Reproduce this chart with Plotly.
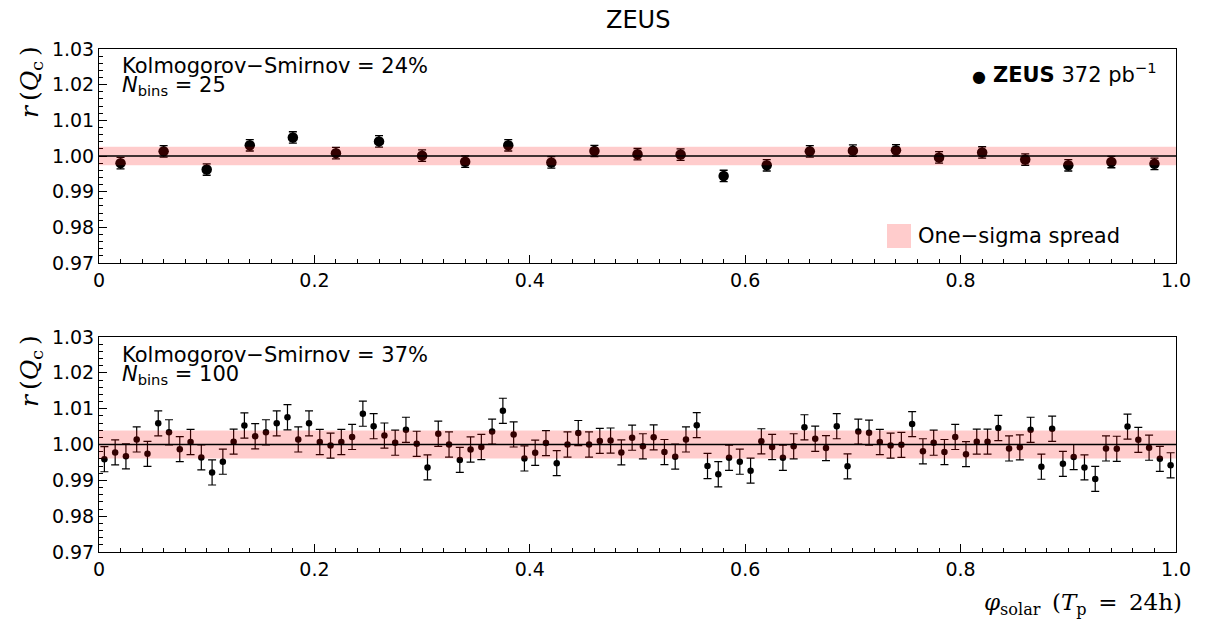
import plotly.graph_objects as go

# ---------------- data ----------------
N_TOP = 25
N_BOT = 100
x_top = [round((i + 0.5) / N_TOP, 4) for i in range(N_TOP)]   # bin centres
x_bot = [round((i + 0.5) / N_BOT, 4) for i in range(N_BOT)]

r_top = [0.9980, 1.0013, 0.9962, 1.0030, 1.0052, 1.0008, 1.0041, 1.0001, 0.9984,
         1.0030, 0.9982, 1.0014, 1.0005, 1.0004, 0.9944, 0.9974, 1.0013, 1.0015,
         1.0016, 0.9996, 1.0010, 0.9990, 0.9974, 0.9983, 0.9978]
err_top = 0.0016

r_bot = [
    0.9959, 0.9978, 0.9967, 1.0014, 0.9974, 1.0059, 1.0034, 0.9987, 1.0007, 0.9964,
    0.9922, 0.9952, 1.0008, 1.0053, 1.0023, 1.0034, 1.0059, 1.0076, 1.0014, 1.0059,
    1.0007, 0.9997, 1.0007, 1.0021, 1.0086, 1.0051, 1.0025, 1.0005, 1.0041, 1.0002,
    0.9936, 1.0030, 1.0000, 0.9957, 0.9986, 0.9993, 1.0036, 1.0094, 1.0028, 0.9961,
    0.9977, 1.0004, 0.9948, 1.0000, 1.0032, 1.0000, 1.0010, 1.0011, 0.9978, 1.0019,
    0.9995, 1.0020, 0.9979, 0.9966, 1.0014, 1.0054, 0.9940, 0.9917, 0.9963, 0.9952,
    0.9927, 1.0009, 0.9993, 0.9963, 0.9995, 1.0048, 1.0016, 0.9990, 1.0051, 0.9939,
    1.0036, 1.0033, 1.0007, 0.9997, 0.9999, 1.0057, 0.9981, 1.0005, 0.9979, 1.0021,
    0.9973, 1.0008, 1.0008, 1.0046, 0.9989, 0.9992, 1.0041, 0.9938, 1.0044, 0.9946,
    0.9965, 0.9936, 0.9904, 0.9989, 0.9988, 1.0050, 1.0013, 0.9991, 0.9960, 0.9942]
err_bot = 0.0035

center = 1.0
spread_top = 0.0026
spread_bot = 0.0039

ks_top = "24%"
ks_bot = "37%"

x_ticks = [0, 0.2, 0.4, 0.6, 0.8, 1.0]
x_ticktext = ["0", "0.2", "0.4", "0.6", "0.8", "1.0"]
y_ticks = [0.97, 0.98, 0.99, 1.00, 1.01, 1.02, 1.03]
y_ticktext = ["0.97", "0.98", "0.99", "1.00", "1.01", "1.02", "1.03"]

# ---------------- figure ----------------
SANS = "DejaVu Sans, Liberation Sans, Arial, sans-serif"
SERIF = "DejaVu Serif, Liberation Serif, serif"
W, H = 1205, 630
ML, MR, MT, MB = 99, 29, 49, 78
PW = W - ML - MR
PH = H - MT - MB


def xp(px):
    return (px - ML) / PW


def yp(py):
    return (H - MB - py) / PH


fig = go.Figure()

fig.add_trace(go.Scatter(
    x=x_top, y=r_top, mode="markers", xaxis="x", yaxis="y",
    marker=dict(color="black", size=10.5),
    error_y=dict(type="constant", value=err_top, color="black", thickness=1.3, width=4),
    showlegend=False, hoverinfo="skip"))

fig.add_trace(go.Scatter(
    x=x_bot, y=r_bot, mode="markers", xaxis="x2", yaxis="y2",
    marker=dict(color="black", size=6.5),
    error_y=dict(type="constant", value=err_bot, color="black", thickness=1.2, width=4),
    showlegend=False, hoverinfo="skip"))

BAND = "rgba(255,0,0,0.2)"
shapes = []
for xr, yr, s in (("x", "y", spread_top), ("x2", "y2", spread_bot)):
    shapes.append(dict(type="rect", xref=xr, yref=yr, x0=0, x1=1,
                       y0=center - s, y1=center + s, fillcolor=BAND,
                       line=dict(width=0), layer="above"))
    shapes.append(dict(type="line", xref=xr, yref=yr, x0=0, x1=1,
                       y0=center, y1=center, line=dict(color="black", width=1.3),
                       layer="above"))
# legend box for one-sigma spread
shapes.append(dict(type="rect", xref="paper", yref="paper",
                   x0=xp(887), x1=xp(911), y0=yp(248), y1=yp(224),
                   fillcolor=BAND, line=dict(width=0), layer="above"))

axis_common = dict(
    showline=True, linecolor="black", linewidth=1, mirror=True,
    ticks="inside", ticklen=8, tickwidth=1, tickcolor="black",
    showgrid=False, zeroline=False,
    tickfont=dict(family=SANS, size=19, color="black"),
)
xax = dict(axis_common, range=[0, 1], tickvals=x_ticks, ticktext=x_ticktext,
           minor=dict(tick0=0, dtick=0.02, ticks="inside", ticklen=4,
                      tickcolor="black", showgrid=False))
yax = dict(axis_common, range=[0.97, 1.03], tickvals=y_ticks, ticktext=y_ticktext,
           minor=dict(tick0=0.97, dtick=0.002, ticks="inside", ticklen=4,
                      tickcolor="black", showgrid=False))

top_lo = yp(263)
bot_hi = yp(337)

annotations = [
    dict(text="ZEUS", x=0.5, y=yp(20), xref="paper", yref="paper",
         showarrow=False, font=dict(family=SANS, size=24, color="black"),
         xanchor="center", yanchor="middle"),
]
for off, ks, n in ((0, ks_top, N_TOP), (289, ks_bot, N_BOT)):
    annotations.append(dict(
        text="Kolmogorov\u2212Smirnov = " + ks, x=xp(120), y=yp(66 + off),
        xref="paper", yref="paper", showarrow=False, xanchor="left", yanchor="middle",
        font=dict(family=SANS, size=21, color="black")))
    annotations.append(dict(
        text="<i>N</i><sub>bins</sub> = " + str(n), x=xp(120), y=yp(86 + off),
        xref="paper", yref="paper", showarrow=False, xanchor="left", yanchor="middle",
        font=dict(family=SANS, size=21, color="black")))
    annotations.append(dict(
        text="<i>r</i>\u2009(<i>Q</i><sub>c</sub>\u2009)", x=xp(31), y=yp(82 + off),
        xref="paper", yref="paper", showarrow=False, textangle=-90,
        xanchor="center", yanchor="middle",
        font=dict(family=SERIF, size=25, color="black")))

annotations.append(dict(
    text="\u25CF", x=xp(979), y=yp(76),
    xref="paper", yref="paper", showarrow=False, xanchor="center", yanchor="middle",
    font=dict(family=SANS, size=16, color="black")))
annotations.append(dict(
    text="<b>ZEUS</b> 372 pb<sup>\u22121</sup>", x=xp(1159), y=yp(73),
    xref="paper", yref="paper", showarrow=False, xanchor="right", yanchor="middle",
    font=dict(family=SANS, size=21, color="black")))
annotations.append(dict(
    text="One\u2212sigma spread", x=xp(916), y=yp(236),
    xref="paper", yref="paper", showarrow=False, xanchor="left", yanchor="middle",
    font=dict(family=SANS, size=21, color="black")))
annotations.append(dict(
    text="<i>\u03C6</i><sub>solar</sub>\u2002(<i>T</i><sub>p</sub>\u2002=\u200224h)",
    x=xp(1184), y=yp(604),
    xref="paper", yref="paper", showarrow=False, xanchor="right", yanchor="middle",
    font=dict(family=SERIF, size=23, color="black")))

fig.update_layout(
    width=W, height=H,
    margin=dict(l=ML, r=MR, t=MT, b=MB, pad=0),
    paper_bgcolor="white", plot_bgcolor="white",
    xaxis=dict(xax, domain=[0, 1], anchor="y"),
    yaxis=dict(yax, domain=[top_lo, 1], anchor="x"),
    xaxis2=dict(xax, domain=[0, 1], anchor="y2"),
    yaxis2=dict(yax, domain=[0, bot_hi], anchor="x2"),
    shapes=shapes, annotations=annotations, showlegend=False,
)

fig.write_html("out.html")
